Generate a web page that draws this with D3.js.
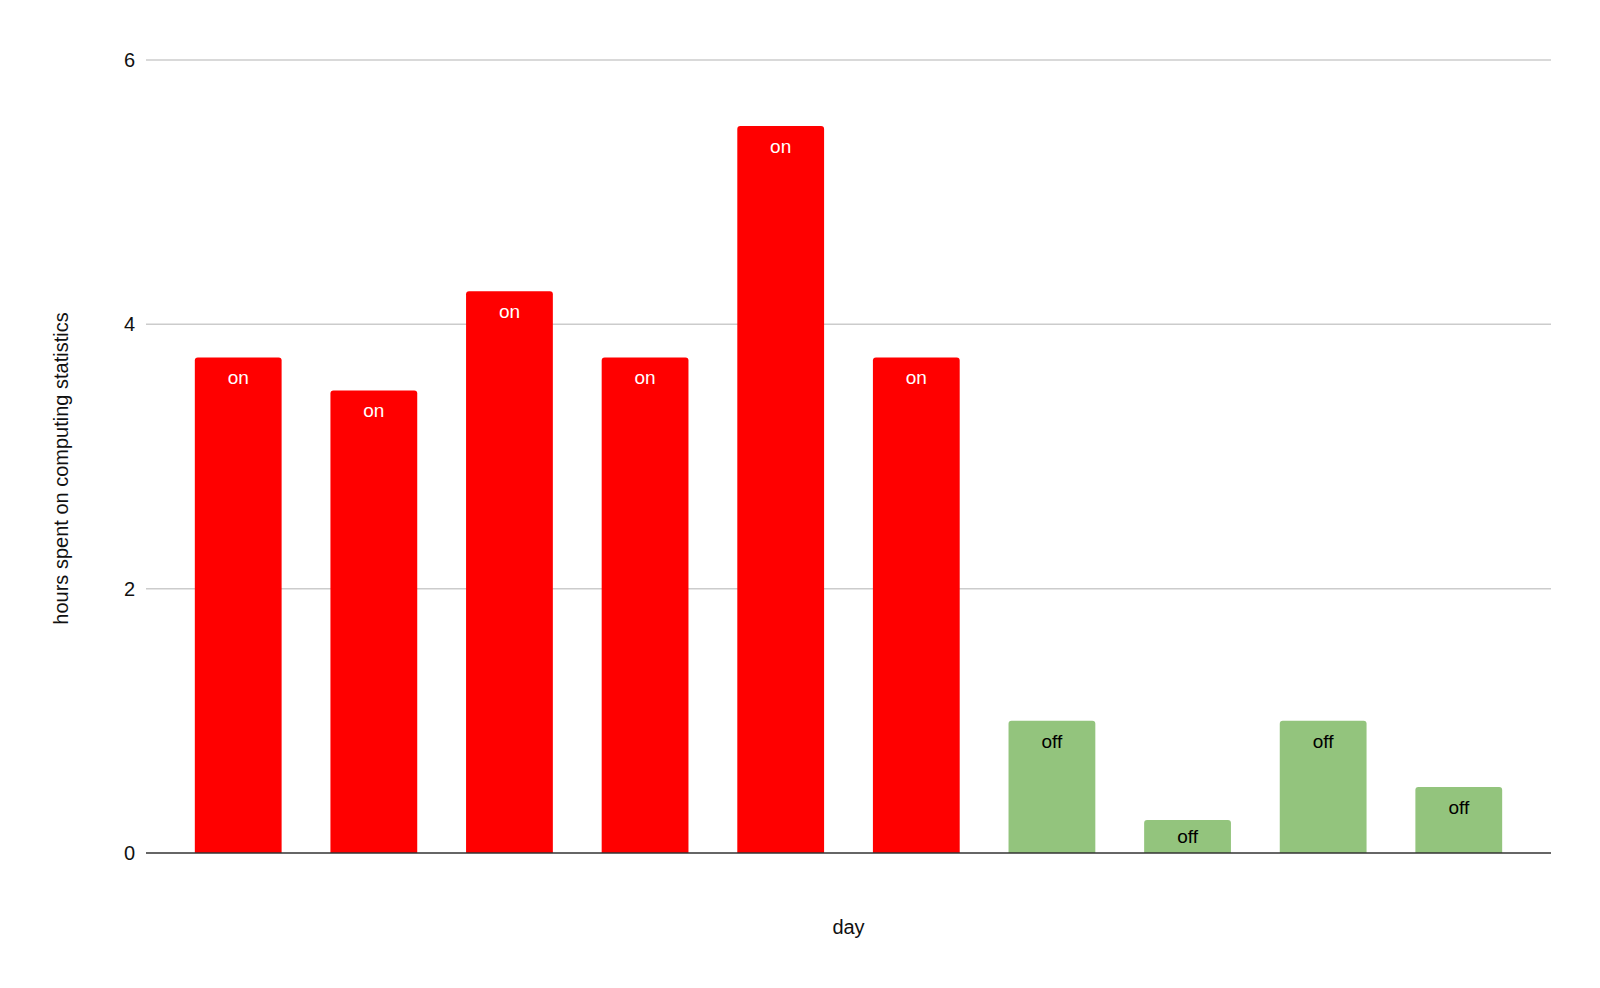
<!DOCTYPE html>
<html><head><meta charset="utf-8">
<script src="https://cdn.jsdelivr.net/npm/d3@7"></script>
<style>body{margin:0;background:#fff;} text{font-family:"Liberation Sans",Arial,sans-serif;}</style>
</head><body>
<svg id="c" width="1600" height="988"></svg>
<script>
const days = ["1","2","3","4","5","6","7","8","9","10"];
const hours = [3.75, 3.5, 4.25, 3.75, 5.5, 3.75, 1, 0.25, 1, 0.5];
const status = ["on","on","on","on","on","on","off","off","off","off"];
const yTicks = [0, 2, 4, 6];

(function () {
const svg = d3.select("#c");
const mLeft = 146, mRight = 1551, mTop = 60, mBottom = 853;
const x = d3.scaleBand().domain(days).range([mLeft, mRight]).paddingInner(0.36).paddingOuter(0.36);
const y = d3.scaleLinear().domain([0, 6]).range([mBottom, mTop]);
const color = {on: "#ff0000", off: "#93c47d"};
const textColor = {on: "#ffffff", off: "#000000"};

// gridlines
svg.append("g").selectAll("line").data(yTicks.filter(d => d > 0)).join("line")
  .attr("x1", mLeft).attr("x2", mRight).attr("y1", d => y(d)).attr("y2", d => y(d))
  .attr("stroke", "#cccccc").attr("stroke-width", 1.5);

// y labels
const yAxis = d3.axisLeft(y).tickValues(yTicks).tickSize(0).tickPadding(11).tickFormat(d3.format("d"));
const ga = svg.append("g").attr("transform", `translate(${mLeft},0)`).call(yAxis);
ga.select(".domain").remove();
ga.selectAll("text").attr("font-size", 20).attr("fill", "#111").style("font-family", '"Liberation Sans",Arial,sans-serif');

const data = days.map((d, i) => ({day: d, v: hours[i], s: status[i]}));
const r = 3;
svg.append("g").selectAll("path").data(data).join("path")
  .attr("fill", d => color[d.s])
  .attr("d", d => {
    const x0 = x(d.day), w = x.bandwidth(), y0 = y(d.v), y1 = y(0);
    return `M${x0},${y1}V${y0 + r}Q${x0},${y0} ${x0 + r},${y0}H${x0 + w - r}Q${x0 + w},${y0} ${x0 + w},${y0 + r}V${y1}Z`;
  });

svg.append("g").selectAll("text").data(data).join("text")
  .attr("x", d => x(d.day) + x.bandwidth() / 2)
  .attr("y", d => Math.min(y(d.v) + 27, y(0) - 10))
  .attr("text-anchor", "middle")
  .attr("font-size", 19)
  .attr("fill", d => textColor[d.s])
  .text(d => d.s);

// baseline
svg.append("line").attr("x1", mLeft).attr("x2", mRight).attr("y1", y(0)).attr("y2", y(0))
  .attr("stroke", "#333").attr("stroke-width", 1.5);

// axis titles
svg.append("text").attr("x", (mLeft + mRight) / 2).attr("y", 934).attr("text-anchor", "middle")
  .attr("font-size", 20).attr("fill", "#111").text("day");
svg.append("text").attr("transform", `translate(68,${(mTop + mBottom) / 2 + 12}) rotate(-90)`)
  .attr("text-anchor", "middle").attr("font-size", 20).attr("fill", "#111")
  .text("hours spent on computing statistics");
})();
</script>
</body></html>
